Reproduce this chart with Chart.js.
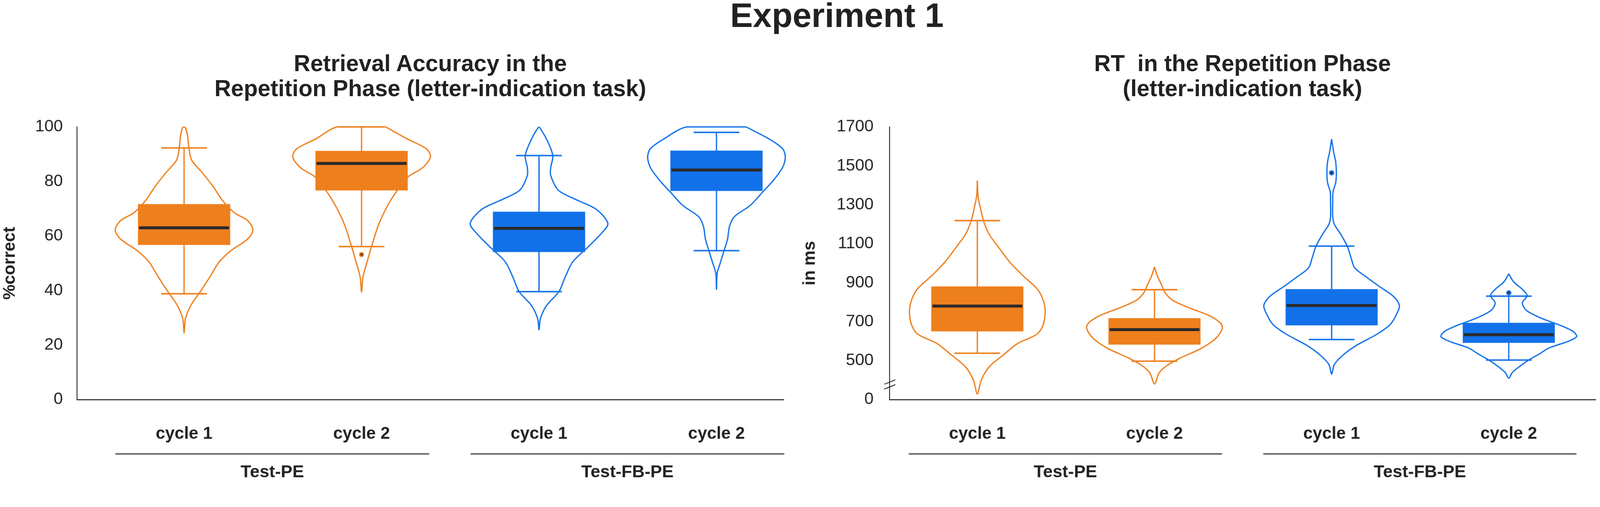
<!DOCTYPE html>
<html>
<head>
<meta charset="utf-8">
<script src="https://cdn.jsdelivr.net/npm/chart.js@4.4.1/dist/chart.umd.min.js"></script>
<style>
  html, body { margin: 0; padding: 0; background: #fff; overflow: hidden; }
  #stage { position: absolute; left: 0; top: 0; width: 4328px; height: 1297px; transform-origin: 0 0;
           font-family: "Liberation Sans", Arial, sans-serif; color: #222; }
  .title { position: absolute; font-weight: bold; white-space: pre; text-align: center; }
  #mainTitle { left: 1764px; width: 1000px; top: -5px; font-size: 92px; line-height: 92px; }
  .sub { font-size: 62px; line-height: 68px; }
  #leftTitle { left: 564px; width: 1200px; top: 137px; }
  #rightTitle { left: 2761px; width: 1200px; top: 137px; }
  .panel { position: absolute; top: 0; width: 2164px; height: 1297px; }
</style>
</head>
<body>
<div id="stage">
  <div id="mainTitle" class="title">Experiment 1</div>
  <div id="leftTitle" class="title sub">Retrieval Accuracy in the
Repetition Phase (letter-indication task)</div>
  <div id="rightTitle" class="title sub">RT  in the Repetition Phase
(letter-indication task)</div>
  <div class="panel" style="left:0"><canvas id="accChart" width="2164" height="1297"></canvas></div>
  <div class="panel" style="left:2164px"><canvas id="rtChart" width="2164" height="1297"></canvas></div>
</div>

<script>
// categories along the x axis and the two condition groups
const categories = ['cycle 1', 'cycle 2', 'cycle 1', 'cycle 2'];
const groups = ['Test-PE', 'Test-FB-PE'];
const seriesColors = ['#EE7F1D', '#EE7F1D', '#1271E8', '#1271E8'];

// Retrieval accuracy (%correct): [min, q1, median, q3, max]
const accBoxes = [
  [38.8, 56.7, 63.0, 71.7, 92.3],
  [56.1, 76.7, 86.6, 91.2, 100],
  [39.6, 54.1, 62.8, 68.9, 89.5],
  [54.6, 76.5, 84.2, 91.3, 98.0]
];
const accOutliers = [[], [53.2], [], []];

// violin outlines, top to bottom: [value, relative density (1 = widest)]
const accViolinPE1 = [[99.8, 0.02], [96.9, 0.05], [92.3, 0.07], [87.8, 0.11], [83, 0.27], [78.2, 0.42], [73.3, 0.55],
  [68.5, 0.73], [65.7, 0.92], [62.2, 1.0], [58.8, 0.92], [54.6, 0.68], [50.5, 0.51], [45.6, 0.39], [40.1, 0.25],
  [34.6, 0.10], [29.7, 0.02], [24.5, 0]];
const accViolinPE2 = [[100, 0.35], [95.5, 0.67], [92, 0.94], [89, 1.0], [85.1, 0.89], [81.6, 0.67], [76.8, 0.52],
  [71.2, 0.38], [64.3, 0.25], [57.4, 0.16], [50.5, 0.08], [44.9, 0.02], [39.4, 0]];
const accViolinFB1 = [[99.8, 0.01], [95.5, 0.11], [89.5, 0.2], [85.1, 0.17], [82.2, 0.17], [76.8, 0.28], [73.3, 0.54],
  [69.8, 0.83], [64.6, 1.0], [60.8, 0.9], [55.9, 0.71], [50.5, 0.49], [44.9, 0.38], [39.6, 0.29], [34.5, 0.11],
  [29.7, 0.02], [25.6, 0]];
const accViolinFB2 = [[100, 0.43], [95.5, 0.77], [92, 0.96], [88.9, 1.0], [85.1, 0.96], [80.2, 0.82], [76.1, 0.67],
  [71.2, 0.49], [67.1, 0.26], [63.6, 0.19], [58.8, 0.16], [54.6, 0.11], [50.5, 0.06], [46.3, 0.01], [40.4, 0]];

// RT in ms: [min, q1, median, q3, max]
const rtBoxes = [
  [538, 650, 780, 881, 1219],
  [497, 582, 659, 718, 864],
  [608, 681, 783, 867, 1088],
  [503, 591, 633, 694, 831]
];
const rtOutliers = [[], [], [1464], [848]];

const rtViolinPE1 = [[1425, 0], [1346, 0.01], [1277, 0.05], [1219, 0.09], [1151, 0.17], [1083, 0.31], [1005, 0.48],
  [937, 0.67], [869, 0.88], [811, 0.97], [752, 1.0], [684, 0.97], [636, 0.88], [587, 0.59], [528, 0.38],
  [470, 0.18], [402, 0.06], [329, 0]];
const rtViolinPE2 = [[981, 0], [937, 0.04], [892, 0.1], [847, 0.16], [809, 0.27], [770, 0.52], [732, 0.8],
  [700, 0.95], [675, 1.0], [643, 0.97], [604, 0.87], [559, 0.67], [515, 0.39], [476, 0.19], [438, 0.07], [380, 0]];
const rtViolinFB1 = [[1637, 0], [1570, 0.03], [1521, 0.06], [1464, 0.07], [1414, 0.06], [1365, 0.02], [1316, 0.016],
  [1239, 0.016], [1200, 0.04], [1151, 0.13], [1088, 0.23], [1024, 0.29], [976, 0.34], [927, 0.52], [879, 0.71],
  [830, 0.91], [783, 1.0], [733, 0.95], [684, 0.86], [636, 0.67], [577, 0.36], [529, 0.17], [480, 0.04], [431, 0]];
const rtViolinFB2 = [[946, 0], [905, 0.07], [866, 0.2], [834, 0.27], [796, 0.2], [758, 0.26], [719, 0.47],
  [681, 0.76], [649, 0.95], [623, 1.0], [598, 0.87], [566, 0.6], [534, 0.45], [502, 0.29], [470, 0.16],
  [438, 0.05], [409, 0]];

const accTicks = [0, 20, 40, 60, 80, 100];
const rtTicks = [300, 500, 700, 900, 1100, 1300, 1500, 1700];   // 300 sits at the axis break, labelled "0"

// fit the 4328x1297 layout into whatever viewport we get
const stage = document.getElementById('stage');
const fit = Math.min(window.innerWidth / 4328, window.innerHeight / 1297);
stage.style.transform = 'scale(' + fit + ')';

Chart.defaults.font.family = '"Liberation Sans", Arial, sans-serif';
Chart.defaults.color = '#222';

const AXIS_COLOR = '#333';
const MEDIAN_COLOR = '#2a2a2a';

// closed outline around category idx, mirrored on both sides
function violinPoints(outline, idx, half) {
  const pts = outline.map(([v, w]) => ({ x: idx + w * half, y: v }));
  for (let k = outline.length - 1; k >= 0; k--) {
    const [v, w] = outline[k];
    if (w > 0) pts.push({ x: idx - w * half, y: v });
  }
  pts.push(pts[0]);
  return pts;
}

function makeBoxPlugin(boxes, outliers, cfg) {
  return {
    id: 'boxes',
    afterDatasetsDraw(chart) {
      const { ctx, scales: { x, y } } = chart;
      boxes.forEach((b, i) => {
        const [mn, q1, md, q3, mx] = b;
        const cx = x.getPixelForValue(i);
        const bw = x.getPixelForValue(i + cfg.boxHalf) - cx;
        const cw = x.getPixelForValue(i + cfg.capHalf) - cx;
        ctx.save();
        ctx.strokeStyle = seriesColors[i];
        ctx.lineWidth = 3.5;
        ctx.beginPath();
        ctx.moveTo(cx, y.getPixelForValue(mn));
        ctx.lineTo(cx, y.getPixelForValue(mx));
        ctx.stroke();
        ctx.lineWidth = 4;
        [mn, mx].forEach(v => {
          const py = y.getPixelForValue(v);
          ctx.beginPath();
          ctx.moveTo(cx - cw, py);
          ctx.lineTo(cx + cw, py);
          ctx.stroke();
        });
        const top = y.getPixelForValue(q3);
        const bot = y.getPixelForValue(q1);
        ctx.fillStyle = seriesColors[i];
        ctx.fillRect(cx - bw, top, 2 * bw, bot - top);
        const my = y.getPixelForValue(md);
        ctx.strokeStyle = MEDIAN_COLOR;
        ctx.lineWidth = 8;
        ctx.beginPath();
        ctx.moveTo(cx - bw + 3, my);
        ctx.lineTo(cx + bw - 3, my);
        ctx.stroke();
        outliers[i].forEach(v => {
          const py = y.getPixelForValue(v);
          ctx.fillStyle = seriesColors[i];
          ctx.beginPath(); ctx.arc(cx, py, 7, 0, Math.PI * 2); ctx.fill();
          ctx.fillStyle = '#333';
          ctx.beginPath(); ctx.arc(cx, py, 3, 0, Math.PI * 2); ctx.fill();
        });
        ctx.restore();
      });
    },
    afterDraw(chart) {
      const { ctx, chartArea, scales: { x, y } } = chart;
      ctx.save();
      // group brackets under the category labels
      cfg.groupSpans.forEach(([a, b], g) => {
        const ly = chartArea.bottom + 147;
        ctx.strokeStyle = AXIS_COLOR;
        ctx.lineWidth = 3;
        ctx.beginPath();
        ctx.moveTo(x.getPixelForValue(a), ly);
        ctx.lineTo(x.getPixelForValue(b), ly);
        ctx.stroke();
        ctx.fillStyle = '#222';
        ctx.font = 'bold 47px "Liberation Sans", Arial, sans-serif';
        ctx.textAlign = 'center';
        ctx.textBaseline = 'alphabetic';
        ctx.fillText(groups[g], x.getPixelForValue((a + b) / 2), chartArea.bottom + 210);
      });
      // axis break marks
      if (cfg.breakAt) {
        ctx.strokeStyle = AXIS_COLOR;
        ctx.lineWidth = 2.5;
        cfg.breakAt.forEach(v => {
          const py = y.getPixelForValue(v);
          ctx.beginPath();
          ctx.moveTo(chartArea.left - 14, py + 6);
          ctx.lineTo(chartArea.left + 16, py - 6);
          ctx.stroke();
        });
      }
      ctx.restore();
    }
  };
}

function makeChart(canvasId, o) {
  const datasets = o.violins.map((outline, i) => ({
    type: 'line',
    data: violinPoints(outline, i, o.violinHalf),
    borderColor: seriesColors[i],
    borderWidth: 3.5,
    pointRadius: 0,
    fill: false,
    tension: 0.3,
    clip: 10
  }));
  return new Chart(document.getElementById(canvasId), {
    type: 'line',
    data: { datasets },
    options: {
      responsive: false,
      devicePixelRatio: 1,
      animation: false,
      layout: { padding: { left: 0, right: o.padRight, top: 343, bottom: 0 } },
      plugins: { legend: { display: false }, tooltip: { enabled: false } },
      scales: {
        x: {
          type: 'linear',
          min: o.xMin,
          max: o.xMax,
          afterBuildTicks: axis => { axis.ticks = categories.map((_, i) => ({ value: i })); },
          afterFit: s => { s.height = o.xHeight; },
          grid: { display: false, drawTicks: false },
          border: { display: true, color: AXIS_COLOR, width: 3 },
          ticks: {
            autoSkip: false,
            maxRotation: 0,
            padding: 66,
            color: '#222',
            font: { size: 46, weight: 'bold' },
            callback: v => categories[v]
          }
        },
        y: {
          type: 'linear',
          min: o.yTicks[0],
          max: o.yTicks[o.yTicks.length - 1],
          afterBuildTicks: axis => { axis.ticks = o.yTicks.map(v => ({ value: v })); },
          afterFit: s => { s.width = o.yWidth; },
          grid: { display: false, drawTicks: false },
          border: { display: true, color: AXIS_COLOR, width: 2.5 },
          ticks: {
            padding: o.yPad,
            color: '#222',
            font: { size: 45 },
            callback: o.yLabel
          },
          title: {
            display: true,
            text: o.yTitle,
            color: '#222',
            padding: 0,
            font: { size: 46, weight: 'bold' }
          }
        }
      }
    },
    plugins: [makeBoxPlugin(o.boxes, o.outliers, {
      boxHalf: 0.26, capHalf: 0.129,
      groupSpans: [[-0.387, 1.381], [1.614, 3.382]],
      breakAt: o.breakAt
    })]
  });
}

makeChart('accChart', {
  violins: [accViolinPE1, accViolinPE2, accViolinFB1, accViolinFB2],
  boxes: accBoxes, outliers: accOutliers,
  violinHalf: 0.388,
  xMin: -0.604, xMax: 3.379, padRight: 44, xHeight: 217,
  yTicks: accTicks, yWidth: 208, yPad: 38, yTitle: '%correct',
  yLabel: v => String(v)
});

makeChart('rtChart', {
  violins: [rtViolinPE1, rtViolinPE2, rtViolinFB1, rtViolinFB2],
  boxes: rtBoxes, outliers: rtOutliers,
  violinHalf: 0.383,
  xMin: -0.496, xMax: 3.49, padRight: 12, xHeight: 217,
  yTicks: rtTicks, yWidth: 242, yPad: 43, yTitle: 'in ms',
  yLabel: v => (v === 300 ? '0' : String(v)),
  breakAt: [365, 390]
});
</script>
</body>
</html>
